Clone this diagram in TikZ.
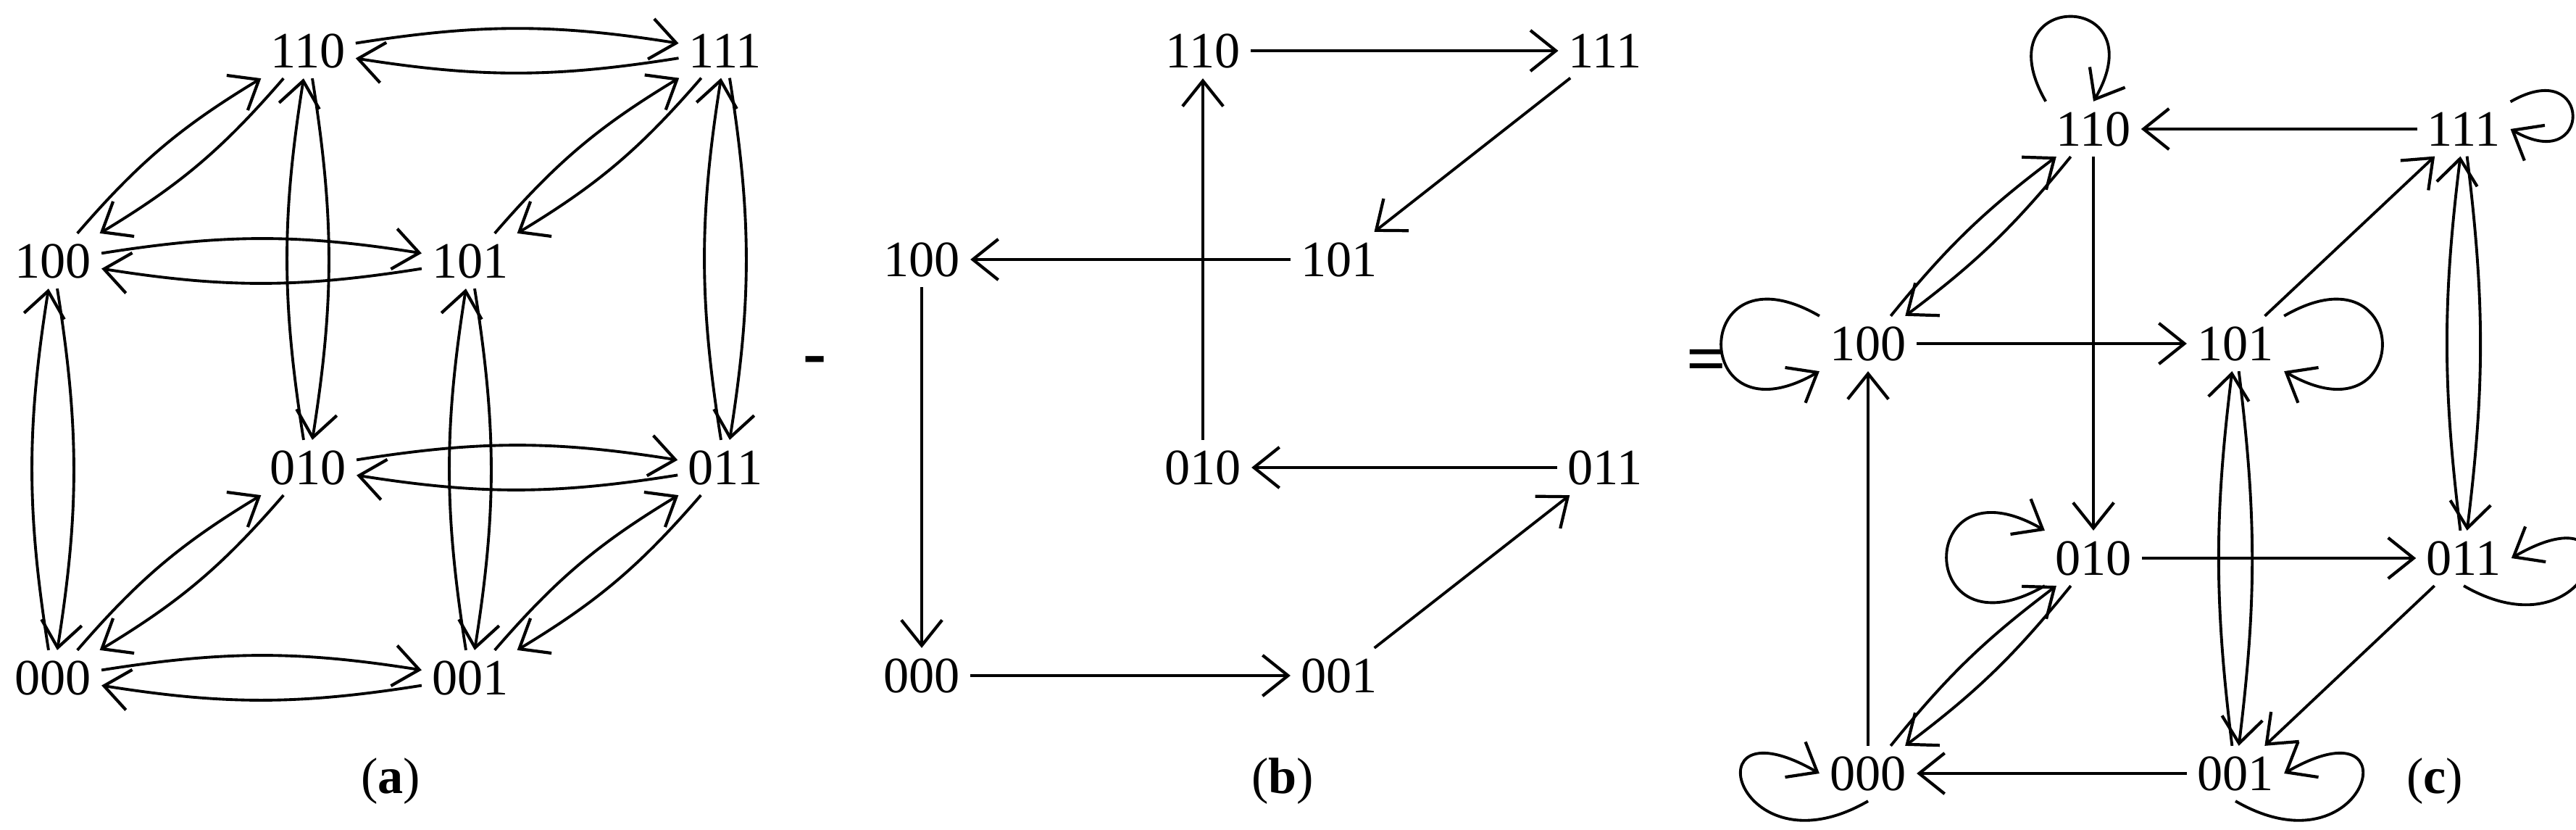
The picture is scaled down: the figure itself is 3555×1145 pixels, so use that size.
\documentclass[tikz,border=0pt]{standalone}
\usepackage{fontspec}
\setmainfont{Liberation Serif}
\usetikzlibrary{arrows.meta}
\begin{document}
\begin{tikzpicture}[x=0.02cm,y=-0.02cm,
  st/.style={font=\fontsize{40}{42}\selectfont, inner sep=8pt},
  captxt/.style={font=\fontsize{40}{42}\selectfont},
  ed/.style={line width=2.2pt, -{Straight Barb[length=20pt,width=32pt,line width=2.4pt]}},
  lp/.style={ed, looseness=7, min distance=75pt}]
\useasboundingbox (0,0) rectangle (3555,1145);
% (a)
\foreach \n/\x/\y in {110/425/70,111/1001/70,100/73/360,101/649/360,010/425/645,011/1001/645,000/73/935,001/649/935}
  \node[st] (a\n) at (\x,\y) {\n};
\foreach \u/\v in {110/111,100/101,010/011,000/001,100/110,000/010,101/111,001/011,000/100,010/110,001/101,011/111}{
  \draw[ed] (a\u) to[bend left=9] (a\v);
  \draw[ed] (a\v) to[bend left=9] (a\u);}
\node[captxt] (ca) at (539,1078) {(\textbf{a})};
\node[font=\fontsize{55}{55}\selectfont\bfseries] (minus) at (1125,505) {-};
% (b)
\foreach \n/\x/\y in {110/1660/70,111/2215/70,100/1272/358,101/1848/358,010/1660/645,011/2215/645,000/1272/932,001/1848/932}
  \node[st] (b\n) at (\x,\y) {\n};
\foreach \u/\v in {110/111,111/101,101/100,010/110,100/000,000/001,001/011,011/010}
  \draw[ed] (b\u) -- (b\v);
\node[captxt] (cb) at (1770,1078) {(\textbf{b})};
\node[font=\fontsize{55}{55}\selectfont\bfseries] (eq) at (2355,505) {=};
% (c)
\foreach \n/\x/\y in {110/2889/178,111/3400/178,100/2578/474,101/3085/474,010/2889/770,011/3400/770,000/2578/1067,001/3085/1067}
  \node[st] (c\n) at (\x,\y) {\n};
\foreach \u/\v in {111/110,100/101,010/011,001/000,000/100,110/010,101/111,011/001}
  \draw[ed] (c\u) -- (c\v);
\foreach \u/\v in {100/110,000/010,101/001,111/011}{
  \draw[ed] (c\u) to[bend left=7] (c\v);
  \draw[ed] (c\v) to[bend left=7] (c\u);}
\draw[lp] (c110.north west) to[out=120,in=60] (c110.north);
\draw[lp] (c111.north east) to[out=30,in=-30] (c111.east);
\draw[lp] (c100.north west) to[out=150,in=210] (c100.south west);
\draw[lp] (c101.north east) to[out=30,in=-30] (c101.south east);
\draw[lp] (c010.south west) to[out=210,in=150] (c010.north west);
\draw[lp] (c011.south) to[out=-30,in=30] (c011.east);
\draw[lp] (c000.south) to[out=210,in=150] (c000.west);
\draw[lp] (c001.south) to[out=-30,in=30] (c001.east);
\node[captxt] (cc) at (3360,1078) {(\textbf{c})};
\end{tikzpicture}
\end{document}
